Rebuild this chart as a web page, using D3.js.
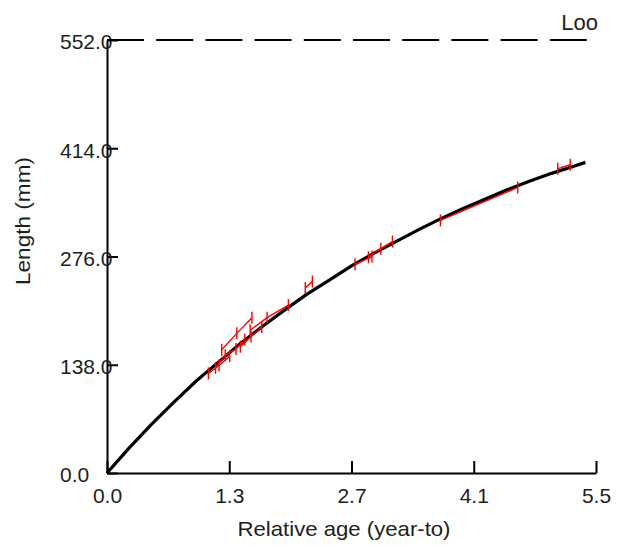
<!DOCTYPE html>
<html>
<head>
<meta charset="utf-8">
<script src="https://cdn.jsdelivr.net/npm/d3@7"></script>
<style>
  html, body { margin: 0; padding: 0; background: #fff; }
  svg { display: block; }
  text { font-family: "Liberation Sans", Arial, sans-serif; fill: #1e1e1e; }
</style>
</head>
<body>
<svg id="chart" width="617" height="547"></svg>
<script>
// Fitted growth curve: relative age (years) and length (mm)
const curveAges    = [0, 0.25, 0.5, 0.75, 1.0, 1.25, 1.5, 1.75, 2.0, 2.25, 2.5, 2.75, 3.0, 3.25, 3.5, 3.75, 4.0, 4.25, 4.5, 4.75, 5.0, 5.25, 5.38];
const curveLengths = [0, 32, 62, 90, 117, 141, 165, 187, 208, 228, 246, 264, 280, 295, 310, 324, 337, 349, 361, 372, 382, 391, 396];

// Back-calculated individual growth tracks (age, length)
const trackAges = [
  [1.14, 1.26, 1.38],
  [1.22, 1.33, 1.45, 1.55],
  [1.29, 1.46, 1.63],
  [1.50, 1.62, 1.74],
  [1.61, 1.80, 2.04],
  [2.23, 2.31],
  [2.79, 2.98],
  [2.94, 3.08, 3.21],
  [3.75, 4.62],
  [5.07, 5.21]
];
const trackLengths = [
  [127, 137, 149],
  [134, 150, 158, 170],
  [157, 178, 198],
  [161, 174, 186],
  [182, 198, 214],
  [236, 244],
  [266, 276],
  [275, 286, 295],
  [322, 364],
  [388, 393]
];

// Asymptotic length and axis settings
const lInf = 552.0;
const xMax = 5.5;
const xTicks = [0, 1.375, 2.75, 4.125, 5.5];
const yTicks = [0, 138, 276, 414, 552];

const svg = d3.select("#chart");
const x = d3.scaleLinear().domain([0, xMax]).range([107, 596]);
const y = d3.scaleLinear().domain([0, lInf]).range([473, 40]);

const trunc1 = d => (Math.floor(d * 10 + 1e-9) / 10).toFixed(1);

// X axis (ticks point inward, labels below)
const gx = svg.append("g")
  .attr("transform", `translate(0,${y(0)})`)
  .call(d3.axisBottom(x).tickValues(xTicks).tickFormat(trunc1)
    .tickSizeInner(-12).tickSizeOuter(0).tickPadding(15));
gx.selectAll("path.domain").attr("stroke", "#000").attr("stroke-width", 2);
gx.selectAll(".tick line").attr("stroke", "#000").attr("stroke-width", 2);
gx.selectAll(".tick text").attr("font-size", 21).attr("fill", "#1e1e1e")
  .attr("font-family", "Liberation Sans, Arial, sans-serif");

// Y axis (ticks point inward, labels left-aligned)
const gy = svg.append("g")
  .attr("transform", `translate(${x(0)},0)`)
  .call(d3.axisLeft(y).tickValues(yTicks).tickFormat(d => d.toFixed(1))
    .tickSizeInner(-11).tickSizeOuter(0));
gy.selectAll("path.domain").attr("stroke", "#000").attr("stroke-width", 2);
gy.selectAll(".tick line").attr("stroke", "#000").attr("stroke-width", 2);
gy.selectAll(".tick text").attr("font-size", 21).attr("fill", "#1e1e1e")
  .attr("font-family", "Liberation Sans, Arial, sans-serif")
  .attr("text-anchor", "start").attr("x", -47).attr("dy", "0.42em");

// Asymptote line
svg.append("line")
  .attr("x1", x(0)).attr("x2", x(xMax))
  .attr("y1", y(lInf)).attr("y2", y(lInf))
  .attr("stroke", "#000").attr("stroke-width", 2)
  .attr("stroke-dasharray", "37,12.2");
svg.append("text")
  .attr("x", 598).attr("y", 30).attr("text-anchor", "end")
  .attr("font-size", 22).text("Loo");

// Growth curve
const line = d3.line().x(d => x(d[0])).y(d => y(d[1]));
svg.append("path")
  .datum(curveAges.map((a, i) => [a, curveLengths[i]]))
  .attr("d", line)
  .attr("fill", "none").attr("stroke", "#000").attr("stroke-width", 3.2)
  .attr("stroke-linejoin", "round");

// Individual tracks with vertical markers at each point
const tracks = svg.append("g");
trackAges.forEach((ages, k) => {
  const pts = ages.map((a, i) => [a, trackLengths[k][i]]);
  tracks.append("path").datum(pts).attr("d", line)
    .attr("fill", "none").attr("stroke", "#ff0000").attr("stroke-width", 1.4);
  tracks.selectAll(null).data(pts).enter().append("line")
    .attr("x1", d => x(d[0])).attr("x2", d => x(d[0]))
    .attr("y1", d => y(d[1]) - 6).attr("y2", d => y(d[1]) + 6)
    .attr("stroke", "#ff0000").attr("stroke-width", 1.4);
});

// Axis titles
svg.append("text")
  .attr("x", 344).attr("y", 536).attr("text-anchor", "middle")
  .attr("font-size", 21).attr("textLength", 213).attr("lengthAdjust", "spacingAndGlyphs")
  .text("Relative age (year-to)");
svg.append("text")
  .attr("transform", "translate(30,221) rotate(-90)")
  .attr("text-anchor", "middle")
  .attr("font-size", 21).attr("textLength", 128).attr("lengthAdjust", "spacingAndGlyphs")
  .text("Length (mm)");
</script>
</body>
</html>
